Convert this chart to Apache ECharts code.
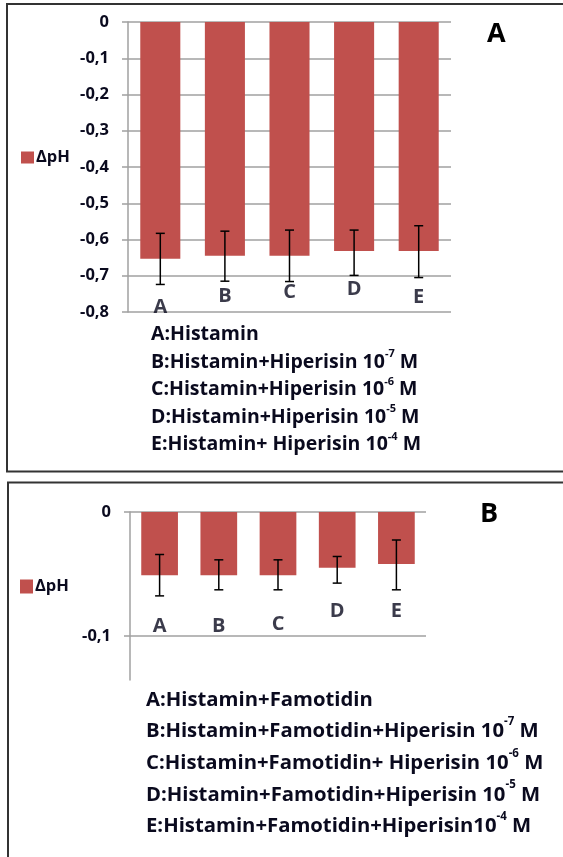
<!DOCTYPE html>
<html>
<head>
<meta charset="utf-8">
<script src="https://cdn.jsdelivr.net/npm/echarts@6/dist/echarts.min.js"></script>
<style>
html,body{margin:0;padding:0;background:#fff;}
#chart{width:563px;height:857px;}
</style>
</head>
<body>
<div id="chart"></div>
<script>
const categories = ['A', 'B', 'C', 'D', 'E'];
const seriesName = 'ΔpH';

// Panel A
const valuesA = [-0.653, -0.645, -0.645, -0.632, -0.632];
const errHighA = [-0.583, -0.577, -0.574, -0.574, -0.562];
const errLowA = [-0.724, -0.715, -0.716, -0.699, -0.705];
const labelPosA = [-0.786, -0.756, -0.745, -0.737, -0.759];
const yTicksA = [0, -0.1, -0.2, -0.3, -0.4, -0.5, -0.6, -0.7, -0.8];
const legendTextA = [
  'A:Histamin',
  'B:Histamin+Hiperisin 10{sup|-7} M',
  'C:Histamin+Hiperisin 10{sup|-6} M',
  'D:Histamin+Hiperisin 10{sup|-5} M',
  'E:Histamin+ Hiperisin 10{sup|-4} M'
];

// Panel B
const valuesB = [-0.051, -0.051, -0.051, -0.045, -0.042];
const errHighB = [-0.0343, -0.0386, -0.0386, -0.0359, -0.0226];
const errLowB = [-0.0677, -0.0628, -0.0628, -0.0574, -0.0628];
const labelPosB = [-0.0925, -0.0925, -0.0906, -0.0803, -0.0803];
const yTicksB = [0, -0.1];
const legendTextB = [
  'A:Histamin+Famotidin',
  'B:Histamin+Famotidin+Hiperisin 10{sup|-7} M',
  'C:Histamin+Famotidin+ Hiperisin 10{sup|-6} M',
  'D:Histamin+Famotidin+Hiperisin 10{sup|-5} M',
  'E:Histamin+Famotidin+Hiperisin10{sup|-4} M'
];

const FONT = 'Open Sans';
const BAR = '#C0504D';
const GRID = '#a0a0a0';
const TXT = '#0a0a1e';

const fmt = v => (v === 0 ? '0' : v.toFixed(1).replace('.', ','));

function errorItem(params, api) {
  const x = api.value(0);
  const hi = api.coord([x, api.value(1)]);
  const lo = api.coord([x, api.value(2)]);
  const hw = 4.5;
  const style = { stroke: '#000', lineWidth: 1.5 };
  return {
    type: 'group',
    children: [
      { type: 'line', shape: { x1: hi[0], y1: hi[1], x2: lo[0], y2: lo[1] }, style },
      { type: 'line', shape: { x1: hi[0] - hw, y1: hi[1], x2: hi[0] + hw, y2: hi[1] }, style },
      { type: 'line', shape: { x1: lo[0] - hw, y1: lo[1], x2: lo[0] + hw, y2: lo[1] }, style }
    ]
  };
}

const axisLabelStyle = { formatter: fmt, margin: 19, color: TXT, fontFamily: FONT, fontWeight: 'bold', fontSize: 16.5 };

function yAxisCommon(extra) {
  return Object.assign({
    type: 'value',
    max: 0,
    axisLine: { show: true, lineStyle: { color: GRID, width: 1.5 } },
    axisTick: { show: true, length: 6, lineStyle: { color: GRID, width: 1.5 } },
    splitLine: { show: true, lineStyle: { color: GRID, width: 1.5 } },
    axisLabel: axisLabelStyle
  }, extra);
}

const richSupA = {
  sup: { fontSize: 11, fontFamily: FONT, fontWeight: 'bold', color: TXT, verticalAlign: 'top', lineHeight: 21 }
};
const richSupB = {
  sup: { fontSize: 11.5, fontFamily: FONT, fontWeight: 'bold', color: TXT, verticalAlign: 'top', lineHeight: 23 }
};

const chart = echarts.init(document.getElementById('chart'), null, { renderer: 'canvas' });
chart.setOption({
  animation: false,
  backgroundColor: '#fff',
  graphic: [
    { type: 'rect', shape: { x: 7, y: 4, width: 570, height: 467.5 }, style: { fill: 'none', stroke: '#333', lineWidth: 2 }, z: 0 },
    { type: 'rect', shape: { x: 8, y: 482.5, width: 570, height: 400 }, style: { fill: 'none', stroke: '#333', lineWidth: 2 }, z: 0 }
  ],
  title: [
    { text: 'A', left: 487, top: 21, padding: 0, textStyle: { fontFamily: FONT, fontWeight: 'bold', fontSize: 27, color: '#000' } },
    { text: 'B', left: 480, top: 501, padding: 0, textStyle: { fontFamily: FONT, fontWeight: 'bold', fontSize: 27, color: '#000' } },
    { text: legendTextA.join('\n'), left: 151, top: 321, padding: 0,
      textStyle: { fontFamily: FONT, fontWeight: 'bold', fontSize: 19.5, lineHeight: 27.5, color: TXT, rich: richSupA } },
    { text: legendTextB.join('\n'), left: 146, top: 684, padding: 0,
      textStyle: { fontFamily: FONT, fontWeight: 'bold', fontSize: 20.3, lineHeight: 31.7, color: TXT, rich: richSupB } }
  ],
  legend: [
    { data: [seriesName], left: 21, top: 149, padding: 0, itemWidth: 13, itemHeight: 12, itemGap: 0, icon: 'rect',
      textStyle: { fontFamily: FONT, fontWeight: 'bold', fontSize: 16.5, color: TXT, padding: [0, 0, 0, -3] }, selectedMode: false },
    { data: [seriesName], left: 20, top: 578, padding: 0, itemWidth: 13, itemHeight: 14, itemGap: 0, icon: 'rect',
      textStyle: { fontFamily: FONT, fontWeight: 'bold', fontSize: 16.5, color: TXT, padding: [0, 0, 0, -3] }, selectedMode: false }
  ],
  grid: [
    { left: 128, top: 22, width: 323, height: 290 },
    { left: 130, top: 512, width: 296, height: 168 }
  ],
  xAxis: [
    { type: 'category', gridIndex: 0, data: categories, axisLine: { show: false }, axisTick: { show: false }, axisLabel: { show: false } },
    { type: 'category', gridIndex: 1, data: categories, axisLine: { show: false }, axisTick: { show: false }, axisLabel: { show: false } }
  ],
  yAxis: [
    yAxisCommon({ gridIndex: 0, min: -0.8, interval: 0.1 }),
    yAxisCommon({ gridIndex: 1, min: -0.1356,
      axisLabel: Object.assign({ customValues: yTicksB }, axisLabelStyle),
      axisTick: { customValues: yTicksB, show: true, length: 6, lineStyle: { color: GRID, width: 1.5 } } })
  ],
  series: [
    { name: seriesName, type: 'bar', xAxisIndex: 0, yAxisIndex: 0, data: valuesA, barWidth: '62%', itemStyle: { color: BAR }, z: 2 },
    { type: 'custom', xAxisIndex: 0, yAxisIndex: 0, renderItem: errorItem,
      data: categories.map((c, i) => [i, errHighA[i], errLowA[i]]), z: 3 },
    { type: 'scatter', xAxisIndex: 0, yAxisIndex: 0, symbolSize: 0,
      data: categories.map((c, i) => [i, labelPosA[i]]),
      label: { show: true, position: 'inside', formatter: p => categories[p.dataIndex], fontFamily: FONT, fontWeight: 'bold', fontSize: 20, color: TXT }, z: 4 },

    { name: seriesName, type: 'bar', xAxisIndex: 1, yAxisIndex: 1, data: valuesB, barWidth: '62%', itemStyle: { color: BAR }, z: 2 },
    { type: 'custom', xAxisIndex: 1, yAxisIndex: 1, renderItem: errorItem,
      data: categories.map((c, i) => [i, errHighB[i], errLowB[i]]), z: 3 },
    { type: 'scatter', xAxisIndex: 1, yAxisIndex: 1, symbolSize: 0,
      data: categories.map((c, i) => [i, labelPosB[i]]),
      label: { show: true, position: 'inside', formatter: p => categories[p.dataIndex], fontFamily: FONT, fontWeight: 'bold', fontSize: 20, color: TXT }, z: 4 }
  ]
});
</script>
</body>
</html>
